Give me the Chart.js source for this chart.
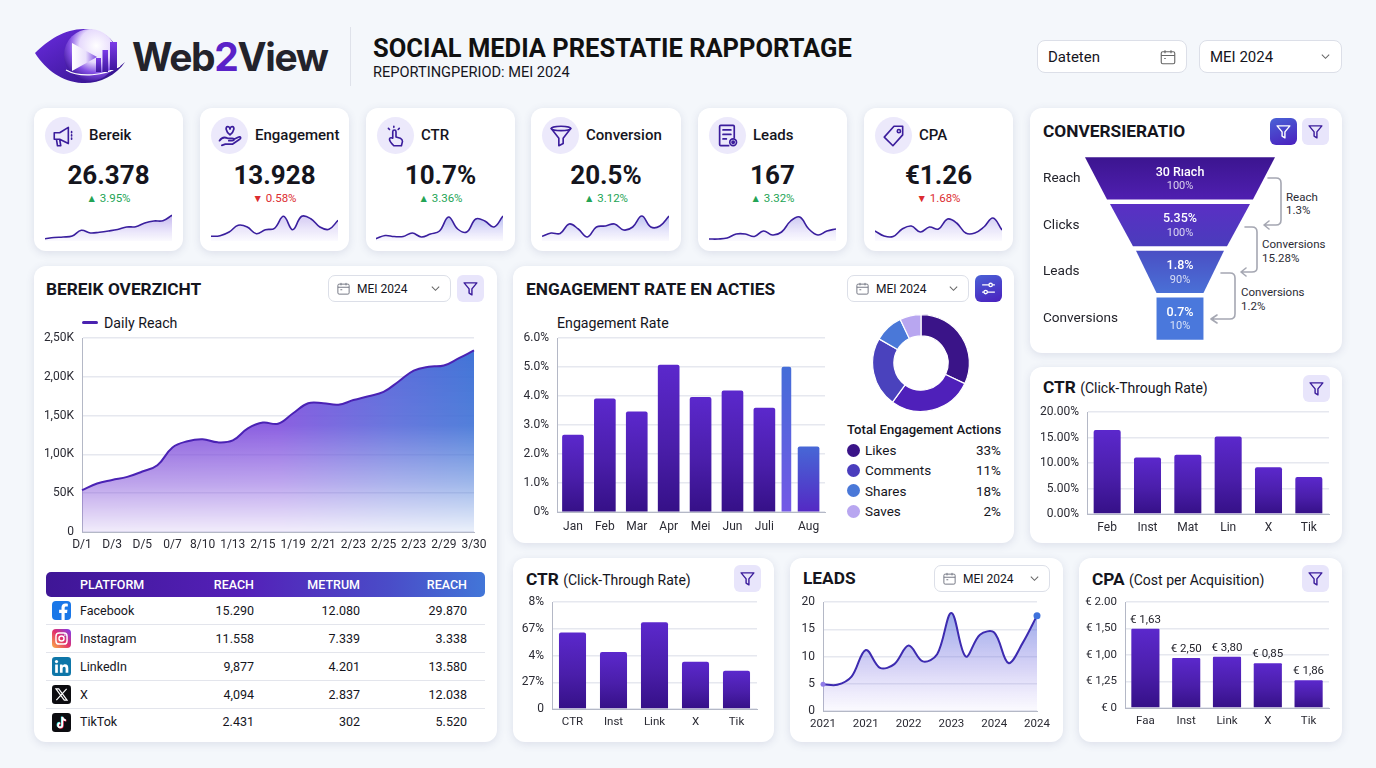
<!DOCTYPE html>
<html lang="nl">
<head>
<meta charset="utf-8">
<title>Web2View - Social Media Prestatie Rapportage</title>
<script src="https://cdn.jsdelivr.net/npm/chart.js@4"></script>
<style>
  html, body { margin: 0; padding: 0; }
  body { width: 1376px; height: 768px; overflow: hidden; position: relative; background: #f4f7fb; font-family: Roboto, "Noto Sans", sans-serif; color: #15151d; }
  .abs { position: absolute; white-space: nowrap; }
  .card { position: absolute; background: #fff; border-radius: 12px; box-shadow: 0 2px 9px rgba(70, 80, 130, 0.14); }
  .title { position: absolute; font-size: 17.3px; font-weight: 700; line-height: 20px; white-space: nowrap; }
  .title span { font-size: 14px; font-weight: 400; }
  .drop { position: absolute; box-sizing: border-box; background: #fff; border: 1px solid #dcdfe8; border-radius: 7px; font-size: 12px; display: flex; align-items: center; }
  .btn { position: absolute; width: 27px; height: 27px; border-radius: 6px; background: #e8e5fb; display: flex; align-items: center; justify-content: center; }
  .btn.solid { background: linear-gradient(160deg, #4a62d6, #4a1fbe); }
  .kpi-name { position: absolute; left: 55px; top: 17px; line-height: 20px; font-size: 15px; font-weight: 500; white-space: nowrap; }
  .kpi-value { position: absolute; left: 0; right: 0; top: 51px; text-align: center; font-size: 26px; line-height: 32px; font-weight: 700; }
  .kpi-delta { position: absolute; left: 0; right: 0; top: 83px; text-align: center; font-size: 11.5px; line-height: 14px; }
  .kpi-delta i { font-style: normal; font-size: 10.5px; }
  .up { color: #23a455; } .down { color: #dc2c30; }
  .kpi-icon { position: absolute; left: 11px; top: 9px; width: 37px; height: 37px; border-radius: 50%; background: #ece9fb; display: flex; align-items: center; justify-content: center; }
  canvas { position: absolute; }
  svg { display: block; }
  #table-head { position: absolute; left: 46px; top: 572px; width: 439px; height: 25px; border-radius: 5px; background: linear-gradient(90deg, #3f1696, #5420b8 45%, #4a4cc8 78%, #4276d8); }
  .th { position: absolute; top: 572px; line-height: 25px; color: #fff; font-size: 12.5px; font-weight: 500; }
  .td { position: absolute; font-size: 12.5px; line-height: 18px; white-space: nowrap; }
  .rowline { position: absolute; left: 46px; width: 439px; height: 1px; background: #e3e5ec; }
</style>
</head>
<body>
<svg class="abs" style="left:0;top:0" width="140" height="100" viewBox="0 0 140 100">
  <defs>
    <linearGradient id="logoGrad" x1="0" y1="0" x2="1" y2="1"><stop offset="0" stop-color="#6a2ce0"/><stop offset="1" stop-color="#2f1185"/></linearGradient>
    <radialGradient id="logoCore" cx="0.62" cy="0.32" r="0.72"><stop offset="0" stop-color="#ffffff"/><stop offset="0.45" stop-color="#e6dafc"/><stop offset="0.72" stop-color="#8450e4"/><stop offset="1" stop-color="#3c1499"/></radialGradient>
    <linearGradient id="logoPlay" x1="0" y1="0" x2="1" y2="0"><stop offset="0" stop-color="#ffffff"/><stop offset="0.55" stop-color="#e9e0fc"/><stop offset="1" stop-color="#7a45e0"/></linearGradient>
    <linearGradient id="barGrad" x1="0" y1="0" x2="0" y2="1"><stop offset="0" stop-color="#7b3be8"/><stop offset="1" stop-color="#3f189e"/></linearGradient>
  </defs>
  <path d="M35 53 C48 40 66 28 86 29 C100 30 110 36 115 45 C116 60 100 76 82 78 C96 78 112 74 125 62 C116 76 98 84 82 83 C62 82 46 70 35 53Z" fill="url(#logoGrad)"/>
  <circle cx="90" cy="55" r="26" fill="url(#logoCore)"/>
  <path d="M66 70 C80 78 104 76 120 66" fill="none" stroke="#fff" stroke-width="1.2"/>
  <path d="M72 43 L72 71 L97 57Z" fill="url(#logoPlay)"/>
  <rect x="96" y="58" width="5" height="14" fill="url(#barGrad)"/>
  <rect x="102.500" y="50" width="5.500" height="22" fill="url(#barGrad)"/>
  <rect x="110" y="42" width="7" height="28" fill="url(#barGrad)"/>
</svg>
<div class="abs" style="left:132px;top:32px;font-family:Inter,sans-serif;font-size:39px;line-height:50px;font-weight:700;letter-spacing:-1.35px;color:#23232b">Web<span style="color:#5a22c8">2</span>View</div>
<div class="abs" style="left:350px;top:27px;width:1px;height:59px;background:#dfe2ea"></div>
<div class="abs" style="left:373px;top:34px;font-size:25.5px;line-height:28px;font-weight:700;color:#111">SOCIAL MEDIA PRESTATIE RAPPORTAGE</div>
<div class="abs" style="left:373px;top:63px;font-size:14.6px;line-height:18px">REPORTINGPERIOD: MEI 2024</div>

<div id="root"></div>

<script>
// dashboard data
const kpiNames = ['Bereik', 'Engagement', 'CTR', 'Conversion', 'Leads', 'CPA'];
const kpiValues = ['26.378', '13.928', '10.7%', '20.5%', '167', '€1.26'];
const kpiDeltas = ['3.95%', '0.58%', '3.36%', '3.12%', '3.32%', '1.68%'];
const kpiUp = [true, false, true, true, true, false];
const sparkBereik = [2.3, 3.5, 4, 5, 10.7, 8, 8.8, 10, 11.5, 14, 14.3, 18, 20, 20.3, 25.7];
const sparkEngagement = [4.7, 5.3, 9, 15.7, 14, 7.3, 11.3, 12.7, 24.7, 11.3, 24.7, 22.3, 14, 11.7, 20.7];
const sparkCtr = [2.3, 5.5, 4.5, 4.5, 8, 4, 7, 10, 24, 12, 9, 22, 20, 14, 25];
const sparkConversion = [4.7, 8, 7.5, 17, 12, 4, 14, 15, 17, 11, 14, 25, 14, 15, 25];
const sparkLeads = [2, 2, 3, 7, 7, 4.5, 10, 6, 9, 20, 24, 12, 6, 10, 12];
const sparkCpa = [10, 5, 4.5, 12, 15, 9, 14, 12, 22, 18, 8, 8, 14, 23, 11];

const reachDays = ['D/1', '', 'D/3', '', 'D/5', '', '0/7', '', '8/10', '', '1/13', '', '2/15', '', '1/19', '', '2/21', '', '2/23', '', '2/25', '', '2/23', '', '2/29', '', '3/30'];
const reachValues = [54, 62.5, 67, 71, 78, 86, 109, 117, 119.5, 115.5, 118, 133.5, 141, 139.5, 153, 166, 166, 164, 170, 175, 180.5, 194, 208, 213, 214.5, 224, 234];
const reachTicks = ['0', '50K', '1,00K', '1,50K', '2,00K', '2,50K'];

const engagementMonths = ['Jan', 'Feb', 'Mar', 'Apr', 'Mei', 'Jun', 'Juli', 'Aug'];
const engagementRates = [2.65, 3.9, 3.45, 5.07, 3.95, 4.18, 3.58, 2.25];
const engagementSlots = [1, 2, 3, 4, 5, 6, 7, 8.385];
const extraBarSlot = 7.69;
const extraBarRate = 5.0;
const engagementTicks = ['0%', '1.0%', '2.0%', '3.0%', '4.0%', '5.0%', '6.0%'];

const actionShares = [32, 28, 23.3, 9.6, 7.1];
const actionColors = ['#3a1488', '#4f20ba', '#4a42bd', '#4a78d8', '#b8a6f0'];
const actionLegend = ['Likes', 'Comments', 'Shares', 'Saves'];
const actionLegendPct = ['33%', '11%', '18%', '2%'];
const actionLegendColors = ['#3a1488', '#4a3dbd', '#4a78d8', '#b8a6f0'];

const funnelSteps = ['Reach', 'Clicks', 'Leads', 'Conversions'];
const funnelTopWidth = [100, 73.7, 46.3, 24.7];
const funnelBottomWidth = [76.8, 49.5, 24.7, 24.7];
const funnelMain = ['30 Rıach', '5.35%', '1.8%', '0.7%'];
const funnelSub = ['100%', '100%', '90%', '10%'];

const ctrPlatforms = ['Feb', 'Inst', 'Mat', 'Lin', 'X', 'Tik'];
const ctrValues = [16.47, 11.1, 11.6, 15.2, 9.15, 7.25];
const ctrTicks = ['0.00%', '5.00%', '10.00%', '15.00%', '20.00%'];

const ctrSmallLabels = ['CTR', 'Inst', 'Link', 'X', 'Tik'];
const ctrSmallValues = [5.72, 4.26, 6.49, 3.54, 2.86];
const ctrSmallTicks = ['0', '27%', '4%', '67%', '8%'];

const leadsYears = ['2021', '', '', '2021', '', '', '2022', '', '', '2023', '', '', '2024', '', '', '2024'];
const leadsValues = [4.9, 4.8, 6.3, 11.2, 7.9, 8.6, 12, 9.1, 10.4, 18, 10, 14, 14.4, 8.8, 12.5, 17.5];
const leadsTicks = ['0', '5', '10', '15', '20'];

const cpaLabels = ['Faa', 'Inst', 'Link', 'X', 'Tik'];
const cpaValues = [1.497, 0.943, 0.969, 0.843, 0.522];
const cpaNotes = ['€ 1,63', '€ 2,50', '€ 3,80', '€ 0,85', '€ 1,86'];
const cpaTicks = ['€ 0', '€ 1,25', '€ 1,00', '€ 1,50', '€ 2.00'];

const tableHead = ['REACH', 'METRUM', 'REACH'];
const tablePlatforms = ['Facebook', 'Instagram', 'LinkedIn', 'X', 'TikTok'];
const tableReachA = ['15.290', '11.558', '9,877', '4,094', '2.431'];
const tableMetric = ['12.080', '7.339', '4.201', '2.837', '302'];
const tableReachB = ['29.870', '3.338', '13.580', '12.038', '5.520'];

// icons
const ink = '#3b1d9c';
const stroke = `fill="none" stroke="${ink}" stroke-width="1.5" stroke-linecap="round" stroke-linejoin="round"`;
const funnelIcon = c => `<svg width="17" height="17" viewBox="0 0 24 24" fill="none" stroke="${c}" stroke-width="2" stroke-linejoin="round"><path d="M3 4h18l-7 8.5V21l-4-2.5v-6z"/></svg>`;
const calIcon = `<svg width="15" height="15" viewBox="0 0 24 24" fill="none" stroke="#777a86" stroke-width="1.6"><rect x="3" y="5" width="18" height="16" rx="2"/><path d="M3 10h18M8 3v4M16 3v4M7 14h3"/></svg>`;
const chevron = `<svg width="11" height="11" viewBox="0 0 24 24" fill="none" stroke="#666" stroke-width="2.2"><path d="M4 8l8 8 8-8"/></svg>`;
const sliders = `<svg width="17" height="17" viewBox="0 0 24 24" fill="none" stroke="#fff" stroke-width="1.8"><path d="M3 7h18M3 17h18"/><circle cx="15" cy="7" r="2.4" fill="#4a44c8"/><circle cx="8" cy="17" r="2.4" fill="#4a44c8"/></svg>`;
const kpiIcons = [
  `<svg width="26" height="26" viewBox="0 0 24 24" ${stroke}><path d="M3 9h5l8-5v15l-8-4H3zM5 15l1 6h3l-1-6M19 8v1M19 11v1M19 14v1"/></svg>`,
  `<svg width="28" height="28" viewBox="0 0 24 24" ${stroke}><path d="M12 11C8 8 8 4 10 4c1 0 2 1 2 2 0-1 1-2 2-2 2 0 2 4-2 7zM3 16c2-3 5-3 7-2h4c2 0 2 2 0 2h-3M15 15l4-2c2-1 3 1 1 2l-6 4H8l-3 1"/></svg>`,
  `<svg width="26" height="26" viewBox="0 0 24 24" ${stroke}><path d="M10 21c-2-2-4-4-4-6 0-1 1-2 3-1V8c0-2 3-2 3 0v5l4 1c2 1 2 2 2 3l-1 4zM10 3v1M5 5l1 1M15 5l-1 1"/></svg>`,
  `<svg width="26" height="26" viewBox="0 0 24 24" ${stroke}><ellipse cx="12" cy="5" rx="9" ry="2"/><path d="M3 5l7 9v7l4-2v-5l7-9"/></svg>`,
  `<svg width="27" height="27" viewBox="0 0 24 24" ${stroke}><path d="M13 21H6a1 1 0 0 1-1-1V4a1 1 0 0 1 1-1h11a1 1 0 0 1 1 1v10M8 7h7M8 11h7M8 15h3"/><circle cx="17" cy="18" r="3"/><circle cx="17" cy="18" r="1" fill="${ink}"/></svg>`,
  `<svg width="26" height="26" viewBox="0 0 24 24" ${stroke}><path d="M12 3h8v8l-9 10-8-8z"/><circle cx="16.5" cy="7.5" r="1.5"/></svg>`
];
const platformIcons = [
  `<svg width="19" height="19" viewBox="0 0 24 24"><rect width="24" height="24" rx="5" fill="#1a77e8"/><path d="M16 24v-9h3l.5-4H16V9c0-1.2.5-2 2-2h2V3.4C19 3.2 18 3 16.800 3 14 3 12 4.800 12 8v3H9v4h3v9z" fill="#fff"/></svg>`,
  `<svg width="19" height="19" viewBox="0 0 24 24"><defs><linearGradient id="ig" x1="0" y1="1" x2="1" y2="0"><stop offset="0" stop-color="#fcb045"/><stop offset=".5" stop-color="#e1306c"/><stop offset="1" stop-color="#7b3ff2"/></linearGradient></defs><rect width="24" height="24" rx="5" fill="url(#ig)"/><rect x="5" y="5" width="14" height="14" rx="4" fill="none" stroke="#fff" stroke-width="1.8"/><circle cx="12" cy="12" r="3.2" fill="none" stroke="#fff" stroke-width="1.8"/><circle cx="16.300" cy="7.700" r="1" fill="#fff"/></svg>`,
  `<svg width="19" height="19" viewBox="0 0 24 24"><rect width="24" height="24" rx="4" fill="#0e76a8"/><rect x="4" y="9.500" width="3.400" height="10.500" fill="#fff"/><circle cx="5.700" cy="5.800" r="2" fill="#fff"/><path d="M10 9.500h3.200v1.500c.6-1 1.800-1.800 3.400-1.800 3 0 4 2 4 4.800V20h-3.400v-5.200c0-1.500-.5-2.500-1.800-2.500s-2 1-2 2.500V20H10z" fill="#fff"/></svg>`,
  `<svg width="19" height="19" viewBox="0 0 24 24"><rect width="24" height="24" rx="4" fill="#0c0c10"/><path d="M5 5h3.500L19 19h-3.500zM18.500 5L5.500 19" fill="none" stroke="#fff" stroke-width="1.500"/></svg>`,
  `<svg width="19" height="19" viewBox="0 0 24 24"><rect width="24" height="24" rx="4" fill="#0c0c10"/><path d="M13 5v10.500a2.700 2.700 0 1 1-2.700-2.700M13 5c.3 2.500 2 4 4.500 4.200" fill="none" stroke="#25f4ee" stroke-width="2.200" transform="translate(-.7 -.5)"/><path d="M13 5v10.500a2.700 2.700 0 1 1-2.700-2.700M13 5c.3 2.500 2 4 4.500 4.200" fill="none" stroke="#fe2c55" stroke-width="2.200" transform="translate(.7 .5)"/><path d="M13 5v10.500a2.700 2.700 0 1 1-2.700-2.700M13 5c.3 2.500 2 4 4.500 4.200" fill="none" stroke="#fff" stroke-width="2.200"/></svg>`
];

// page scaffold helpers
const root = document.getElementById('root');
function el(cls, css, html) {
  const d = document.createElement('div');
  d.className = cls;
  d.style.cssText = css;
  if (html !== undefined) d.innerHTML = html;
  root.appendChild(d);
  return d;
}
function card(x, y, r, b) { el('card', `left:${x}px;top:${y}px;width:${r - x}px;height:${b - y}px`); }
function drop(x, y, r, h, text, cal) {
  el('drop', `left:${x}px;top:${y}px;width:${r - x}px;height:${h}px;padding:0 9px 0 ${cal ? 7 : 10}px`,
    `${cal ? calIcon : ''}<span style="margin-left:${cal ? 6 : 0}px">${text}</span><span style="margin-left:auto">${chevron}</span>`);
}
function filterBtn(x, y, solid) {
  el('btn' + (solid ? ' solid' : ''), `left:${x}px;top:${y}px`, funnelIcon(solid ? '#fff' : ink));
}

// cards
[[34, 183], [200, 349], [366, 515], [531, 681], [698, 847], [864, 1013]].forEach(([x, r], i) => {
  const c = el('card', `left:${x}px;top:108px;width:${r - x}px;height:143px`);
  c.innerHTML = `<div class="kpi-icon">${kpiIcons[i]}</div><div class="kpi-name">${kpiNames[i]}</div>
    <div class="kpi-value">${kpiValues[i]}</div>
    <div class="kpi-delta ${kpiUp[i] ? 'up' : 'down'}"><i>${kpiUp[i] ? '▲' : '▼'}</i> ${kpiDeltas[i]}</div>`;
});
card(1030, 108, 1342, 353);
card(34, 266, 497, 742);
card(513, 266, 1014, 543);
card(1030, 367, 1342, 543);
card(513, 558, 774, 742);
card(790, 558, 1063, 742);
card(1079, 558, 1342, 742);

// header controls
el('drop', 'left:1037px;top:40px;width:150px;height:33px;padding:0 9px 0 10px;font-size:15px;border-radius:8px',
  `<span>Dateten</span><span style="margin-left:auto"><svg width="18" height="18" viewBox="0 0 24 24" fill="none" stroke="#666" stroke-width="1.5"><rect x="3" y="5" width="18" height="16" rx="2"/><path d="M3 10h18M8 3v4M16 3v4M7 14h2"/></svg></span>`);
el('drop', 'left:1199px;top:40px;width:143px;height:33px;padding:0 10px;font-size:15px;border-radius:8px',
  `<span>MEI 2024</span><span style="margin-left:auto">${chevron}</span>`);

// card headers
el('title', 'left:46px;top:279px', 'BEREIK OVERZICHT');
drop(328, 275, 451, 27, 'MEI 2024', true);
filterBtn(457, 275);
el('abs', 'left:82px;top:321px;width:16px;height:2.5px;background:#4a22b0;border-radius:2px');
el('abs', 'left:104px;top:314px;font-size:14.2px;line-height:18px', 'Daily Reach');

el('title', 'left:526px;top:279px', 'ENGAGEMENT RATE EN ACTIES');
drop(847, 275, 969, 27, 'MEI 2024', true);
el('btn solid', 'left:975px;top:275px', sliders);
el('abs', 'left:557px;top:314px;font-size:14.2px;line-height:18px', 'Engagement Rate');
el('abs', 'left:847px;top:421px;font-size:13.1px;line-height:17px;font-weight:500', 'Total Engagement Actions');
actionLegend.forEach((name, i) => {
  const y = 450 + i * 20.4;
  el('abs', `left:847px;top:${y - 6.5}px;width:13px;height:13px;border-radius:50%;background:${actionLegendColors[i]}`);
  el('abs', `left:865px;top:${y - 9}px;font-size:13.5px;line-height:18px`, name);
  el('abs', `right:${1376 - 1001}px;top:${y - 9}px;font-size:13.5px;line-height:18px`, actionLegendPct[i]);
});

el('title', 'left:1043px;top:121px', 'CONVERSIERATIO');
filterBtn(1270, 118, true);
filterBtn(1302, 118);

el('title', 'left:1043px;top:377px', 'CTR <span>(Click-Through Rate)</span>');
filterBtn(1303, 375);
el('title', 'left:526px;top:569px', 'CTR <span>(Click-Through Rate)</span>');
filterBtn(734, 565);
el('title', 'left:803px;top:568px', 'LEADS');
drop(934, 565, 1050, 27, 'MEI 2024', true);
el('title', 'left:1092px;top:569px', 'CPA <span>(Cost per Acquisition)</span>');
filterBtn(1302, 565);

// funnel side arrows and notes
el('abs', 'left:0;top:0', `<svg width="1376" height="400" fill="none" stroke="#a5a7b2" stroke-width="1.6" stroke-linecap="round" stroke-linejoin="round">
  <path d="M1268 178h8q5 0 5 5v37q0 5-5 5h-12M1269 221l-5 4 5 4"/>
  <path d="M1245 227h7q5 0 5 5v36q0 4-5 4h-11M1246 268l-5 4 5 4"/>
  <path d="M1221 273h9q5 0 5 5v36q0 5-5 5h-19M1217 315l-6 4 6 4"/>
</svg>`);
[[1286, 197, 'Reach'], [1286, 210, '1.3%'], [1262, 244, 'Conversions'], [1262, 258, '15.28%'], [1241, 292, 'Conversions'], [1241, 306, '1.2%']].forEach(([x, y, t]) => {
  el('abs', `left:${x}px;top:${y - 7}px;font-size:11.5px;line-height:14px;color:#2b2b35`, t);
});

// platform table
el('', '', '').id = 'table-head';
el('th', 'left:80px', 'PLATFORM');
[254, 360, 467].forEach((r, i) => el('th', `right:${1376 - r}px`, tableHead[i]));
tablePlatforms.forEach((name, i) => {
  const y = [610.5, 638.5, 666.5, 694.5, 722][i];
  el('abs', `left:52px;top:${y - 9.5}px`, platformIcons[i]);
  el('td', `left:80px;top:${y - 9}px`, name);
  el('td', `right:${1376 - 254}px;top:${y - 9}px`, tableReachA[i]);
  el('td', `right:${1376 - 360}px;top:${y - 9}px`, tableMetric[i]);
  el('td', `right:${1376 - 467}px;top:${y - 9}px`, tableReachB[i]);
  if (i < 4) el('rowline', `top:${[624, 652, 680, 708][i]}px`);
});

// chart helpers
Chart.defaults.font.family = 'Roboto, "Noto Sans", sans-serif';
Chart.defaults.color = '#2a2a33';
const gridColor = '#e6e8ef';
const axisColor = '#b4b8c6';

function mount(x, y, w, h) {
  const c = document.createElement('canvas');
  c.width = w;
  c.height = h;
  c.style.cssText = `left:${x}px;top:${y}px;width:${w}px;height:${h}px`;
  root.appendChild(c);
  return c;
}

// canvas placed so that the plot area lands on the given page box
function plotChart(box, margins, config) {
  const { l, t, r, b } = box;
  const [ml, mt, mr, mb] = margins;
  const canvas = mount(l - ml, t - mt, r - l + ml + mr, b - t + mt + mb);
  const scales = config.options.scales;
  scales.x.afterFit = s => { s.height = mb; s.paddingLeft = 0; s.paddingRight = 0; };
  scales.y.afterFit = s => { s.width = ml; s.paddingTop = 0; s.paddingBottom = 0; };
  config.options.responsive = false;
  config.options.animation = false;
  config.options.layout = { padding: { top: mt, right: mr, left: 0, bottom: 0 } };
  config.options.plugins = Object.assign({ legend: { display: false }, tooltip: { enabled: false } }, config.options.plugins);
  return new Chart(canvas, config);
}

function yAxis(max, step, labels, size) {
  return {
    min: 0, max: max,
    ticks: { stepSize: step, padding: 8, font: { size: size }, callback: (v, i) => labels[i] },
    grid: { color: gridColor, lineWidth: 1.5, drawTicks: false },
    border: { color: axisColor, display: true }
  };
}
function xAxis(size, pad) {
  return {
    grid: { display: false, drawTicks: false },
    border: { color: axisColor },
    ticks: { font: { size: size }, padding: pad, maxRotation: 0, autoSkip: false }
  };
}

function barFill(ctx) {
  const chart = ctx.chart;
  if (!chart.chartArea || !ctx.parsed) return '#4a1fb0';
  const yS = chart.scales.y;
  const g = chart.ctx.createLinearGradient(0, yS.getPixelForValue(ctx.parsed.y), 0, yS.getPixelForValue(0));
  g.addColorStop(0, '#5b28cc');
  g.addColorStop(0.55, '#4a1eaa');
  g.addColorStop(1, '#351087');
  return g;
}
function barFillBlue(top, bottom) {
  return ctx => {
    const chart = ctx.chart;
    if (!chart.chartArea || !ctx.parsed) return top;
    const yS = chart.scales.y;
    const g = chart.ctx.createLinearGradient(0, yS.getPixelForValue(ctx.parsed.y), 0, yS.getPixelForValue(0));
    g.addColorStop(0, top);
    g.addColorStop(1, bottom);
    return g;
  };
}

// fill that fades both left to right and top to bottom
function reachFill(ctx) {
  const chart = ctx.chart;
  const a = chart.chartArea;
  if (!a) return '#7a45d8';
  const off = document.createElement('canvas');
  off.width = chart.width;
  off.height = chart.height;
  const c = off.getContext('2d');
  const h = c.createLinearGradient(a.left, 0, a.right, 0);
  h.addColorStop(0, '#7c48d6');
  h.addColorStop(0.5, '#7f4fde');
  h.addColorStop(0.78, '#5a68da');
  h.addColorStop(1, '#3f72d6');
  c.fillStyle = h;
  c.fillRect(0, 0, off.width, off.height);
  c.globalCompositeOperation = 'destination-in';
  const v = c.createLinearGradient(0, a.top, 0, a.bottom);
  v.addColorStop(0, 'rgba(0,0,0,1)');
  v.addColorStop(0.45, 'rgba(0,0,0,0.9)');
  v.addColorStop(0.75, 'rgba(0,0,0,0.5)');
  v.addColorStop(1, 'rgba(0,0,0,0.1)');
  c.fillStyle = v;
  c.fillRect(0, 0, off.width, off.height);
  return chart.ctx.createPattern(off, 'no-repeat');
}

// sparklines
const sparkSeries = [sparkBereik, sparkEngagement, sparkCtr, sparkConversion, sparkLeads, sparkCpa];
const sparkLeft = [45, 211, 376, 542, 709, 875];
const sparkFillTop = ['rgba(118,84,214,0.5)', 'rgba(118,84,214,0.38)', 'rgba(86,112,222,0.55)', 'rgba(86,112,222,0.5)', 'rgba(100,90,214,0.42)', 'rgba(100,90,214,0.38)'];
sparkSeries.forEach((series, i) => {
  const canvas = mount(sparkLeft[i], 211, 127, 30);
  new Chart(canvas, {
    type: 'line',
    data: {
      labels: series.map((v, k) => k),
      datasets: [{
        data: series,
        borderColor: '#3a1f9e',
        borderWidth: 1.6,
        tension: 0.4,
        pointRadius: 0,
        clip: false,
        fill: 'origin',
        backgroundColor: ctx => {
          const g = ctx.chart.ctx.createLinearGradient(0, 0, 0, 30);
          g.addColorStop(0, sparkFillTop[i]);
          g.addColorStop(1, 'rgba(150,130,235,0.04)');
          return g;
        }
      }]
    },
    options: {
      responsive: false,
      animation: false,
      layout: { padding: 0 },
      plugins: { legend: { display: false }, tooltip: { enabled: false } },
      scales: { x: { display: false }, y: { display: false, min: 0, max: 30 } }
    }
  });
});

// daily reach area
plotChart({ l: 82, t: 338, r: 474, b: 532 }, [48, 10, 23, 24], {
  type: 'line',
  data: {
    labels: reachDays,
    datasets: [{
      data: reachValues,
      borderColor: '#4a22b4',
      borderWidth: 2,
      tension: 0.4,
      pointRadius: 0,
      fill: 'origin',
      backgroundColor: reachFill
    }]
  },
  options: { scales: { x: xAxis(12, 6), y: yAxis(250, 50, reachTicks, 12) } }
});

// engagement bars, the slim extra bar sits between Juli and Aug
const engagementPoints = engagementSlots.map((s, i) => ({ x: s, y: engagementRates[i] }));
const engagementAxis = xAxis(12, 8);
engagementAxis.type = 'linear';
engagementAxis.offset = false;
engagementAxis.min = 0.5;
engagementAxis.max = 8.9;
engagementAxis.afterBuildTicks = s => { s.ticks = engagementSlots.map(v => ({ value: v })); };
engagementAxis.ticks.callback = (v, i) => engagementMonths[i];
plotChart({ l: 557, t: 338, r: 825, b: 512 }, [44, 10, 6, 26], {
  type: 'bar',
  data: {
    datasets: [
      {
        data: engagementPoints,
        barThickness: 21,
        grouped: false,
        borderRadius: 2,
        backgroundColor: ctx => ctx.dataIndex === 7 ? barFillBlue('#4767d6', '#5429c4')(ctx) : barFill(ctx)
      },
      {
        data: [{ x: extraBarSlot, y: extraBarRate }],
        barThickness: 9,
        grouped: false,
        borderRadius: 2,
        backgroundColor: barFillBlue('#446dd8', '#7458e6')
      }
    ]
  },
  options: { scales: { x: engagementAxis, y: yAxis(6, 1, engagementTicks, 12) } }
});

// engagement actions donut
new Chart(mount(871, 313, 100, 100), {
  type: 'doughnut',
  data: {
    labels: ['Likes', '', 'Comments', 'Shares', 'Saves'],
    datasets: [{ data: actionShares, backgroundColor: actionColors, borderColor: '#fff', borderWidth: 1.2 }]
  },
  options: {
    responsive: false,
    animation: false,
    cutout: '56%',
    layout: { padding: 1 },
    plugins: { legend: { display: false }, tooltip: { enabled: false } }
  }
});

// conversion funnel: hidden floating bars give the rows, the plugin cuts them into trapezoids
const funnelColors = [['#3c1590', '#4f1fb0'], ['#5a2fc4', '#4a3cbc'], ['#4a4fc4', '#4a70d6'], ['#4a78dc', '#4a78dc']];
const funnelPlugin = {
  id: 'funnelPlugin',
  afterDatasetsDraw(chart) {
    const { ctx, scales, chartArea } = chart;
    const meta = chart.getDatasetMeta(0);
    const px = v => scales.x.getPixelForValue(v);
    meta.data.forEach((bar, i) => {
      const top = bar.y - bar.height / 2;
      const bottom = bar.y + bar.height / 2;
      const g = ctx.createLinearGradient(0, top, 0, bottom);
      g.addColorStop(0, funnelColors[i][0]);
      g.addColorStop(1, funnelColors[i][1]);
      ctx.save();
      ctx.fillStyle = g;
      ctx.beginPath();
      ctx.moveTo(px(-funnelTopWidth[i] / 2), top);
      ctx.lineTo(px(funnelTopWidth[i] / 2), top);
      ctx.lineTo(px(funnelBottomWidth[i] / 2), bottom);
      ctx.lineTo(px(-funnelBottomWidth[i] / 2), bottom);
      ctx.closePath();
      ctx.fill();
      ctx.textBaseline = 'middle';
      ctx.textAlign = 'center';
      ctx.fillStyle = '#fff';
      ctx.font = '500 12.5px Roboto';
      ctx.fillText(funnelMain[i], px(0), bar.y - 6);
      ctx.fillStyle = 'rgba(255,255,255,0.78)';
      ctx.font = '11px Roboto';
      ctx.fillText(funnelSub[i], px(0), bar.y + 8);
      ctx.textAlign = 'left';
      ctx.fillStyle = '#23232b';
      ctx.font = '13.6px Roboto';
      ctx.fillText(funnelSteps[i], chartArea.left, bar.y);
      ctx.restore();
    });
  }
};
new Chart(mount(1043, 155, 232, 187), {
  type: 'bar',
  data: {
    labels: funnelSteps,
    datasets: [{
      data: funnelTopWidth.map(w => [-w / 2, w / 2]),
      backgroundColor: 'rgba(0,0,0,0)',
      barPercentage: 0.905,
      categoryPercentage: 1
    }]
  },
  options: {
    indexAxis: 'y',
    responsive: false,
    animation: false,
    layout: { padding: 0 },
    plugins: { legend: { display: false }, tooltip: { enabled: false } },
    scales: { x: { display: false, min: -72.1, max: 50 }, y: { display: false } }
  },
  plugins: [funnelPlugin]
});

// CTR by platform, right column
plotChart({ l: 1087, t: 412, r: 1329, b: 514 }, [56, 8, 12, 24], {
  type: 'bar',
  data: { labels: ctrPlatforms, datasets: [{ data: ctrValues, backgroundColor: barFill, borderRadius: 2, barPercentage: 0.67, categoryPercentage: 1 }] },
  options: { scales: { x: xAxis(12, 7), y: yAxis(20, 5, ctrTicks, 12) } }
});

// CTR small, bottom row
plotChart({ l: 552, t: 602, r: 757, b: 709 }, [38, 8, 12, 24], {
  type: 'bar',
  data: { labels: ctrSmallLabels, datasets: [{ data: ctrSmallValues, backgroundColor: barFill, borderRadius: 2, barPercentage: 0.66, categoryPercentage: 1 }] },
  options: { scales: { x: xAxis(11.5, 6), y: yAxis(8, 2, ctrSmallTicks, 12) } }
});

// leads area
plotChart({ l: 823, t: 602, r: 1037, b: 711 }, [30, 8, 24, 24], {
  type: 'line',
  data: {
    labels: leadsYears,
    datasets: [{
      data: leadsValues,
      borderColor: '#3d2bb0',
      borderWidth: 2,
      tension: 0.35,
      clip: false,
      pointRadius: ctx => ctx.dataIndex === leadsValues.length - 1 ? 3.5 : (ctx.dataIndex === 0 ? 2.5 : 0),
      pointBackgroundColor: ctx => ctx.dataIndex === 0 ? '#8f7be8' : '#3f72dc',
      pointBorderWidth: 0,
      fill: 'origin',
      backgroundColor: ctx => {
        const a = ctx.chart.chartArea;
        if (!a) return '#c6d0f2';
        const g = ctx.chart.ctx.createLinearGradient(0, a.top, 0, a.bottom);
        g.addColorStop(0, 'rgba(66,105,215,0.62)');
        g.addColorStop(0.6, 'rgba(120,110,225,0.3)');
        g.addColorStop(1, 'rgba(150,130,235,0.04)');
        return g;
      }
    }]
  },
  options: { scales: { x: xAxis(11.5, 6), y: yAxis(20, 5, leadsTicks, 12) } }
});

// CPA bars with their notes on top
const cpaNotePlugin = {
  id: 'cpaNotePlugin',
  afterDatasetsDraw(chart) {
    const { ctx } = chart;
    ctx.save();
    ctx.font = '11.5px Roboto';
    ctx.fillStyle = '#23232b';
    ctx.textAlign = 'center';
    ctx.textBaseline = 'bottom';
    chart.getDatasetMeta(0).data.forEach((bar, i) => ctx.fillText(cpaNotes[i], bar.x, bar.y - 3));
    ctx.restore();
  }
};
plotChart({ l: 1125, t: 602, r: 1329, b: 708 }, [46, 8, 12, 24], {
  type: 'bar',
  data: { labels: cpaLabels, datasets: [{ data: cpaValues, backgroundColor: barFill, borderRadius: 1, barPercentage: 0.69, categoryPercentage: 1 }] },
  options: { scales: { x: xAxis(11.5, 6), y: yAxis(2, 0.5, cpaTicks, 11.5) } },
  plugins: [cpaNotePlugin]
});
</script>
</body>
</html>
